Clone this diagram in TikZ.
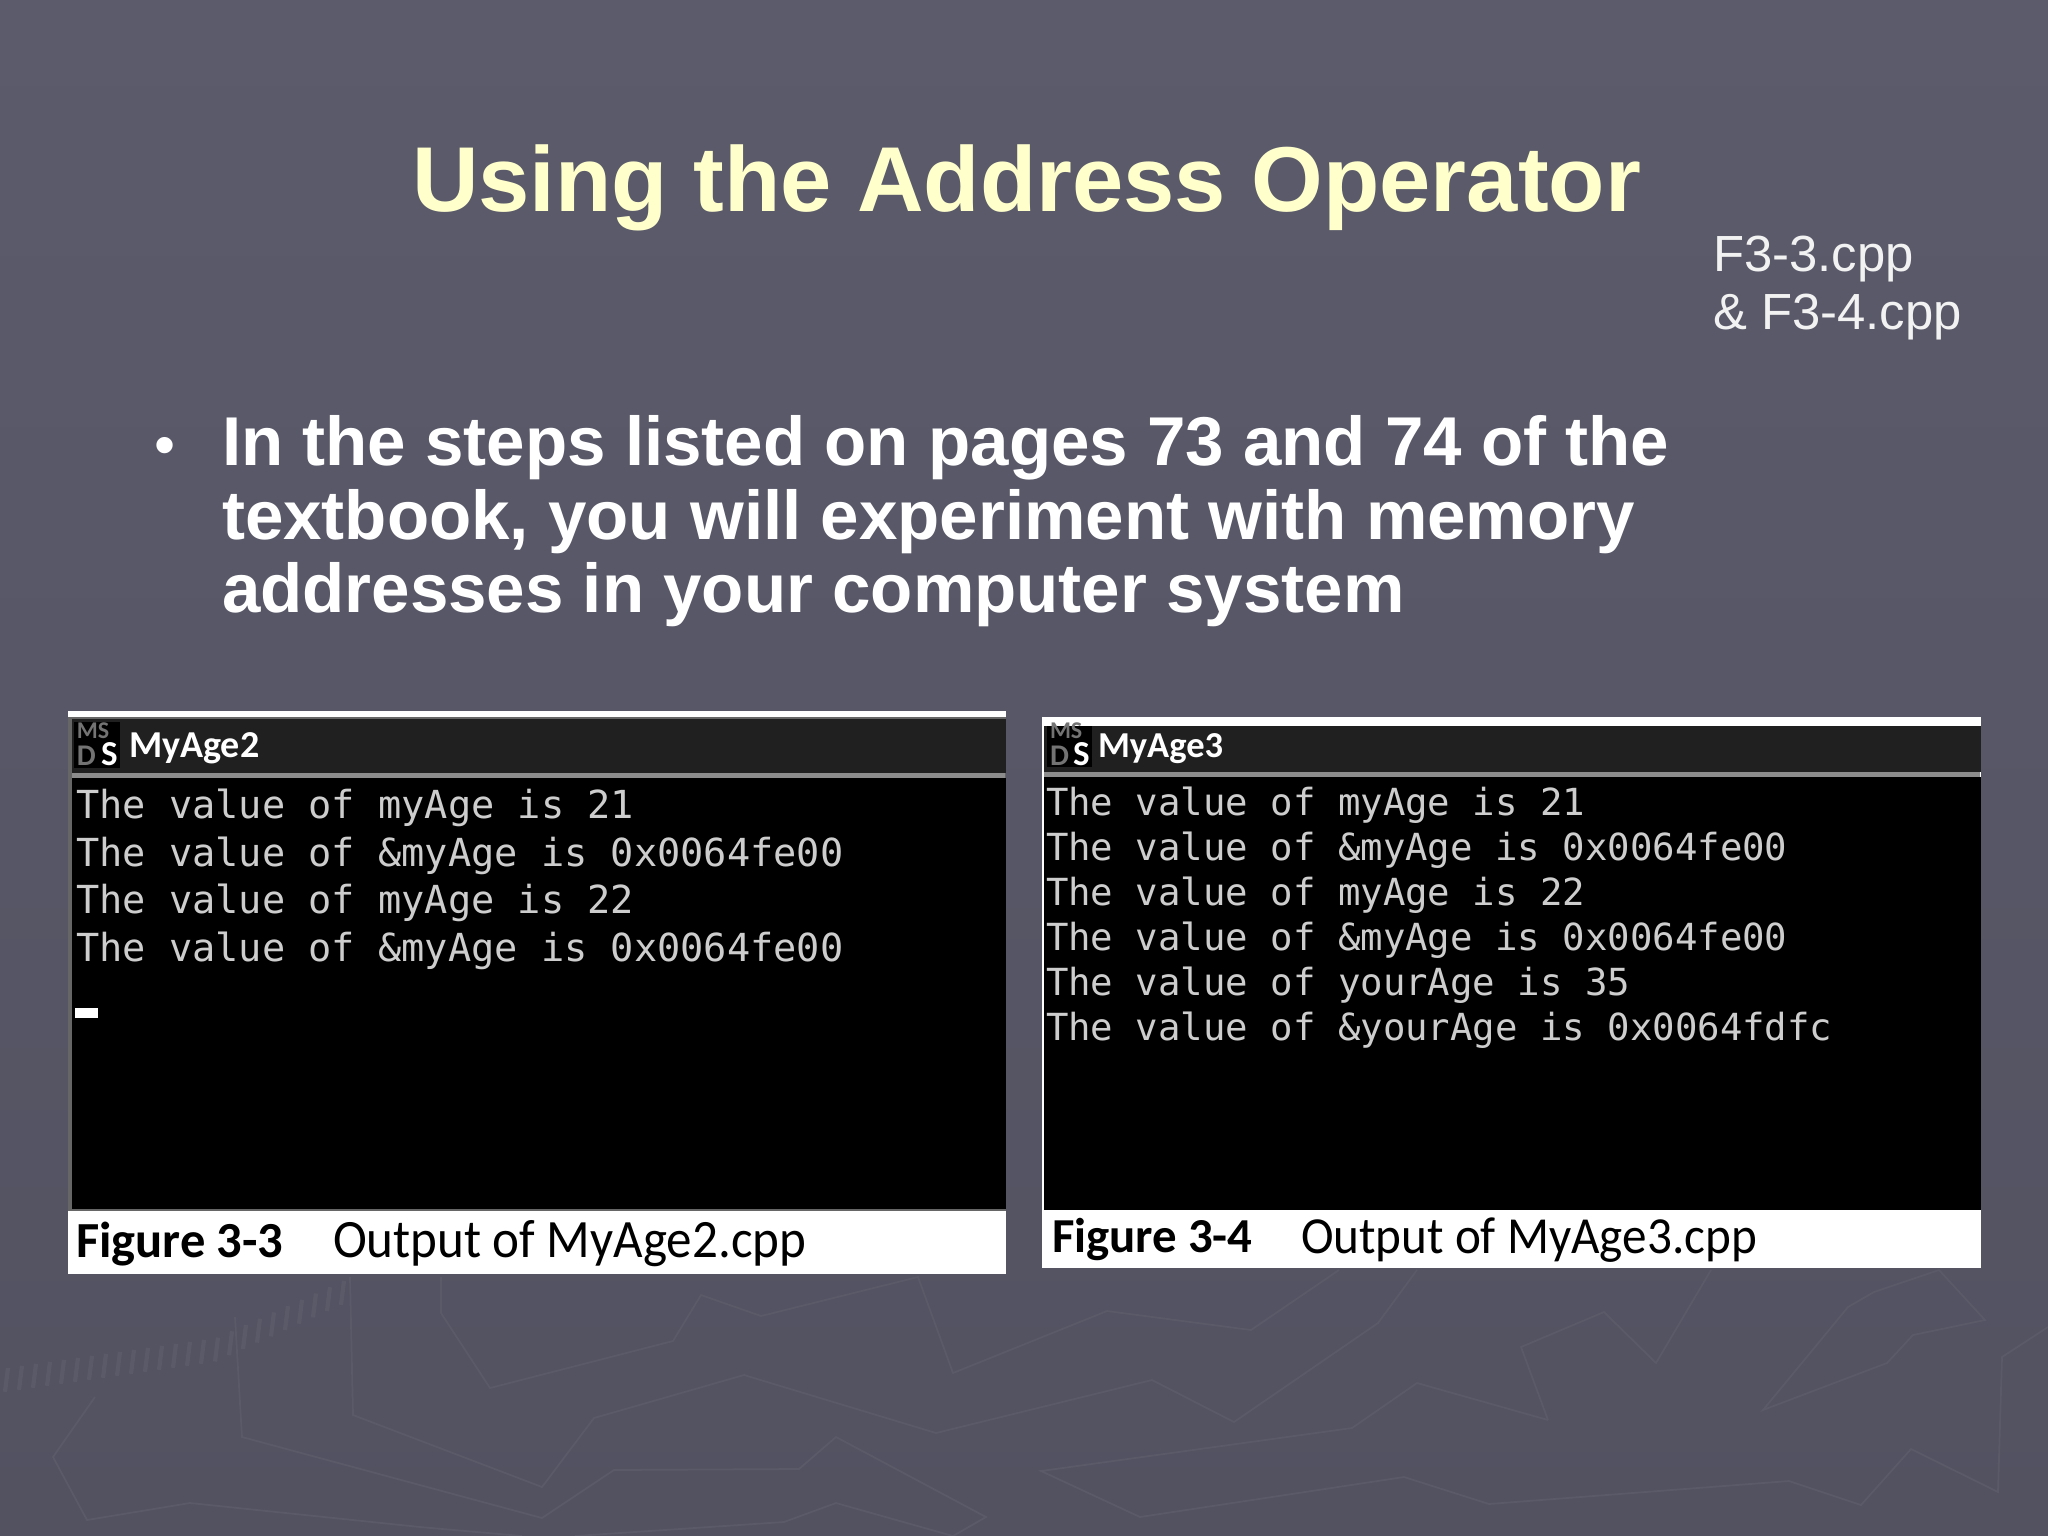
\documentclass[tikz,border=0pt]{standalone}
\usepackage{fontspec}
\usepackage{tikz}
\setmainfont{Liberation Sans}
\newfontfamily\consolefont{DejaVu Sans Mono}
\newfontfamily\captionfont[FakeStretch=0.945]{Carlito}
\newfontfamily\figurefont{Carlito}
\newcommand{\pxsize}[1]{\fontsize{\fpeval{#1*0.28453}pt}{\fpeval{#1*0.28453*1.2}pt}\selectfont}
\definecolor{slidetop}{HTML}{5B5B6C}
\definecolor{slidebottom}{HTML}{525261}
\definecolor{faintline}{HTML}{5A5A69}
\definecolor{titleyellow}{HTML}{FFFFCC}
\definecolor{consolegrey}{HTML}{CDCDCD}
\definecolor{barblack}{HTML}{202020}
\tikzset{
  faint/.style={draw=faintline, line width=0.5pt},
  hatchmark/.style={draw=faintline, line width=1.2pt},
  basetext/.style={anchor=base west, inner sep=0pt, outer sep=0pt},
  slidetitle/.style={basetext, text=titleyellow, font=\pxsize{92.1}\bfseries},
  bodyline/.style={basetext, text=white, font=\pxsize{69.05}\bfseries},
  fileline/.style={basetext, text=white!95!black, font=\pxsize{50.8}},
  consoleA/.style={basetext, text=consolegrey, font=\consolefont\pxsize{38.6}},
  consoleB/.style={basetext, text=consolegrey, font=\consolefont\pxsize{37.3}},
  captiontext/.style={basetext, text=black, font=\captionfont\pxsize{54}},
  figuretext/.style={basetext, text=black, font=\figurefont\bfseries\pxsize{#1}},
  bartext/.style={basetext, text=white, font=\figurefont\bfseries\pxsize{#1}},
  icontext/.style={basetext, text=black!55, font=\figurefont\bfseries\pxsize{#1}},
  iconS/.style={basetext, text=white, font=\figurefont\bfseries\pxsize{35}}
}
\begin{document}
\begin{tikzpicture}[x=0.01cm,y=-0.01cm]
      \useasboundingbox (0,0) rectangle (2048,1536);
      % background
      \shade[top color=slidetop, bottom color=slidebottom] (0,0) rectangle (2048,1536);
      \draw[faint] (441,1277) -- (441,1313) -- (490,1388) -- (673,1341) -- (701,1295) -- (761,1316) -- (918,1277) -- (953,1373) -- (1107,1311) -- (1251,1330) -- (1339,1270);
      \draw[faint] (350,1277) -- (353,1415) -- (542,1487) -- (594,1418) -- (744,1375) -- (936,1433) -- (1152,1380) -- (1234,1422) -- (1378,1323) -- (1417,1270);
      \draw[faint] (235,1317) -- (242,1437) -- (542,1518) -- (614,1470) -- (799,1469) -- (836,1437) -- (986,1517) -- (953,1536);
      \draw[faint] (95,1397) -- (53,1457) -- (87,1520) -- (190,1503) -- (420,1527) -- (522,1536);
      \draw[faint] (575,1536) -- (784,1522) -- (836,1503) -- (953,1536);
      \draw[faint] (1548,1420) -- (1417,1383) -- (1352,1428) -- (1041,1471) -- (1140,1517) -- (1404,1477) -- (1489,1504) -- (1789,1481) -- (1861,1505) -- (1911,1449) -- (1998,1492) -- (2002,1357) -- (2048,1327);
      \draw[faint] (1548,1420) -- (1521,1347) -- (1604,1312) -- (1656,1363) -- (1711,1270);
      \draw[faint] (1763,1410) -- (1887,1363) -- (1913,1335) -- (1985,1320) -- (1939,1270) -- (1874,1292) -- (1848,1307) -- cycle;
      \foreach \k in {8,22,...,345}{
        \pgfmathsetmacro{\hatchy}{\k<217 ? 1381-0.143*\k : 1350-0.45*(\k-217)}
        \draw[hatchmark] (\k,\hatchy-12) -- (\k-3,\hatchy+12);
      }
      % heading and bullet
      \node[name=title, slidetitle] at (412,211){Using the Address Operator};
      \node[name=file1, fileline] at (1713,271){F3-3.cpp};
      \node[name=file2, fileline] at (1713,329){\& F3-4.cpp};
      \node[name=bullet, bodyline, font=\pxsize{60}] at (154,465){•};
      \node[name=body1, bodyline] at (222,465){In the steps listed on pages 73 and 74 of the};
      \node[name=body2, bodyline] at (222,539){textbook, you will experiment with memory};
      \node[name=body3, bodyline] at (222,612){addresses in your computer system};
      % left window
      \fill[white] (68,711) rectangle (1006,1274);
      \fill[black!60] (68,717) rectangle (1006,1211);
      \fill[barblack] (72,719) rectangle (1006,773);
      \fill[black!45] (72,773) rectangle (1005,778);
      \fill[black] (72,778) rectangle (1006,1209);
      \fill[black] (74,722) rectangle (120,768);
      \node[name=iconA1, icontext=24] at (77,738){MS};
      \node[name=iconA2, icontext=30] at (77,765){D};
      \node[name=iconA3, iconS] at (101,765){S};
      \node[name=barA, bartext=38] at (129,757){MyAge2};
      \node[name=lineA1, consoleA] at (76,818){The value of myAge is 21};
      \node[name=lineA2, consoleA] at (76,866){The value of \&myAge is 0x0064fe00};
      \node[name=lineA3, consoleA] at (76,913){The value of myAge is 22};
      \node[name=lineA4, consoleA] at (76,961){The value of \&myAge is 0x0064fe00};
      \fill[white] (75,1008) rectangle (98,1018);
      \node[name=figA, figuretext=50.5] at (76,1257){Figure 3-3};
      \node[name=capA, captiontext] at (333,1257){Output of MyAge2.cpp};
      % right window
      \fill[white] (1042,717) rectangle (1981,1268);
      \fill[barblack] (1044,726) rectangle (1981,772);
      \fill[black!45] (1044,772) rectangle (1980,777);
      \fill[black] (1044,777) rectangle (1981,1210);
      \fill[black] (1047,726) rectangle (1092,767);
      \node[name=iconB1, icontext=24] at (1050,738){MS};
      \node[name=iconB2, icontext=30] at (1050,765){D};
      \node[name=iconB3, iconS] at (1073,765){S};
      \node[name=barB, bartext=36.5] at (1098,757){MyAge3};
      \node[name=lineB1, consoleB] at (1046,815){The value of myAge is 21};
      \node[name=lineB2, consoleB] at (1046,860){The value of \&myAge is 0x0064fe00};
      \node[name=lineB3, consoleB] at (1046,905){The value of myAge is 22};
      \node[name=lineB4, consoleB] at (1046,950){The value of \&myAge is 0x0064fe00};
      \node[name=lineB5, consoleB] at (1046,995){The value of yourAge is 35};
      \node[name=lineB6, consoleB] at (1046,1040){The value of \&yourAge is 0x0064fdfc};
      \node[name=figB, figuretext=48.8] at (1052,1252){Figure 3-4};
      \node[name=capB, captiontext, font=\captionfont\pxsize{52}] at (1301,1253){Output of MyAge3.cpp};
    \end{tikzpicture}
\end{document}
